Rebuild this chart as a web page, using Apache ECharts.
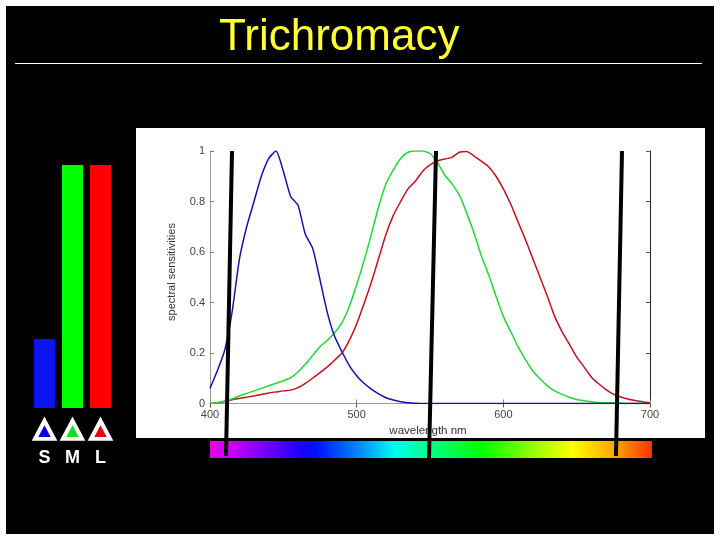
<!DOCTYPE html>
<html>
<head>
<meta charset="utf-8">
<style>
html, body { margin: 0; padding: 0; background: #fff; }
#chart { width: 720px; height: 540px; }
</style>
<script src="https://cdn.jsdelivr.net/npm/echarts@6/dist/echarts.min.js"></script>
</head>
<body>
<div id="chart"></div>
<script>
// sampled every 5 nm, 400 to 700
const wavelengths = [];
for (let w = 400; w <= 700; w += 5) wavelengths.push(w);

const sCone = [0.06, 0.13, 0.21, 0.36, 0.57, 0.70, 0.80, 0.90, 0.97, 1.0, 0.92, 0.82, 0.785, 0.67, 0.615, 0.49, 0.36, 0.265, 0.205, 0.15, 0.11, 0.08, 0.057, 0.038, 0.023, 0.014, 0.007, 0.003, 0.001, 0, 0, 0, 0, 0, 0, 0, 0, 0, 0, 0, 0, 0, 0, 0, 0, 0, 0, 0, 0, 0, 0, 0, 0, 0, 0, 0, 0, 0, 0, 0, 0];
const mCone = [0, 0.003, 0.01, 0.018, 0.03, 0.04, 0.05, 0.06, 0.07, 0.08, 0.09, 0.102, 0.125, 0.155, 0.19, 0.225, 0.25, 0.28, 0.32, 0.385, 0.47, 0.565, 0.67, 0.78, 0.87, 0.925, 0.97, 0.995, 1.0, 1.0, 0.99, 0.955, 0.905, 0.87, 0.825, 0.755, 0.675, 0.585, 0.51, 0.425, 0.345, 0.285, 0.225, 0.175, 0.13, 0.098, 0.07, 0.05, 0.036, 0.025, 0.016, 0.011, 0.007, 0.004, 0.003, 0.002, 0.001, 0, 0, 0, 0];
const lCone = [0, 0.003, 0.008, 0.015, 0.02, 0.025, 0.03, 0.036, 0.042, 0.046, 0.05, 0.053, 0.063, 0.08, 0.1, 0.122, 0.145, 0.172, 0.2, 0.25, 0.315, 0.395, 0.48, 0.575, 0.67, 0.745, 0.80, 0.85, 0.88, 0.92, 0.945, 0.96, 0.968, 0.975, 0.995, 0.998, 0.98, 0.96, 0.938, 0.9, 0.85, 0.79, 0.72, 0.65, 0.575, 0.5, 0.425, 0.345, 0.285, 0.235, 0.185, 0.145, 0.105, 0.078, 0.055, 0.037, 0.026, 0.018, 0.012, 0.007, 0.003];

// cone response bars on the left
const coneNames = ["S", "M", "L"];
const coneResponse = [0.284, 1, 1];
const coneColors = ["#0a14f0", "#00ff00", "#ff0000"];
const triangleColors = ["#0000e0", "#10e020", "#e80010"];

// the three slanted marker lines: [wavelength, sensitivity] top and bottom
const marker1 = [[415, 1], [410.9, -0.208]];
const marker2 = [[554.1, 1], [549.3, -0.216]];
const marker3 = [[680.9, 1], [676.8, -0.208]];

const spectrumRange = [400, 701.5];
const spectrumStops = [
  [0, "#e800e8"], [0.05, "#c800ff"], [0.2, "#2000ff"], [0.24, "#0010ff"], [0.33, "#0080ff"],
  [0.42, "#00ffee"], [0.5, "#00ff80"], [0.615, "#00ff00"], [0.74, "#a0ff00"], [0.82, "#ffff00"],
  [0.92, "#ffa000"], [1, "#ff3000"],
];

const zip = (ys) => wavelengths.map((w, i) => [w, ys[i]]);
const curve = (name, ys, color) => ({
  name, type: "line", data: zip(ys), showSymbol: false, smooth: 0.2, xAxisIndex: 0, yAxisIndex: 0,
  lineStyle: { color, width: 1.5 }, z: 4,
});
const marker = (data) => ({
  type: "line", data, showSymbol: false, clip: false, xAxisIndex: 0, yAxisIndex: 0,
  lineStyle: { color: "#000", width: 4 }, z: 6,
});

const font = "Liberation Sans";
const axisText = { fontFamily: font, fontSize: 11, color: "#444" };

const myChart = echarts.init(document.getElementById("chart"));
const option = {
  backgroundColor: "#fff",
  animation: false,
  title: {
    text: "Trichromacy", left: 214, top: 11,
    textStyle: { color: "#ffff33", fontFamily: font, fontWeight: "normal", fontSize: 44 },
  },
  graphic: [
    { type: "rect", z: -10, shape: { x: 6, y: 6, width: 708, height: 528 }, style: { fill: "#000" } },
    { type: "rect", z: -9, shape: { x: 136, y: 128, width: 569, height: 310 }, style: { fill: "#fff" } },
    { type: "rect", z: -9, shape: { x: 15, y: 63, width: 687, height: 1 }, style: { fill: "#fff" } },
    { type: "text", z: 1, x: 428, y: 431, style: { text: "wavelength nm", fill: "#333", font: "11.5px " + font, textAlign: "center", textVerticalAlign: "middle" } },
    { type: "text", z: 1, x: 172, y: 272, rotation: Math.PI / 2, style: { text: "spectral sensitivities", fill: "#333", font: "11px " + font, textAlign: "center", textVerticalAlign: "middle" } },
  ],
  grid: [
    { left: 210, top: 151, width: 440, height: 252.5 },
    { left: 30.5, top: 165, width: 84, height: 243 },
    { left: 210, top: 441, width: 442, height: 17 },
  ],
  xAxis: [
    {
      type: "value", gridIndex: 0, min: 400, max: 700, interval: 100,
      splitLine: { show: false },
      axisLine: { lineStyle: { color: "#ccc" }, onZero: false },
      axisTick: { inside: true, length: 4, lineStyle: { color: "#888" } },
      axisLabel: { ...axisText, margin: 6, showMinLabel: true, showMaxLabel: true },
    },
    {
      type: "value", gridIndex: 0, position: "top", min: 400, max: 700, interval: 100,
      splitLine: { show: false },
      axisLine: { lineStyle: { color: "#999" } },
      axisTick: { inside: true, length: 4, lineStyle: { color: "#555" } },
      axisLabel: { show: false },
    },
    {
      type: "category", gridIndex: 1, data: coneNames,
      axisLine: { show: false }, axisTick: { show: false },
      axisLabel: { color: "#fff", fontFamily: font, fontWeight: "bold", fontSize: 18, margin: 41 },
    },
    {
      type: "value", gridIndex: 2, min: spectrumRange[0], max: spectrumRange[1], show: false,
      splitLine: { show: false },
    },
  ],
  yAxis: [
    {
      type: "value", gridIndex: 0, min: 0, max: 1, interval: 0.2,
      splitLine: { show: false },
      axisLine: { show: true, lineStyle: { color: "#999" } },
      axisTick: { inside: true, length: 4, lineStyle: { color: "#777" } },
      axisLabel: { ...axisText, margin: 5 },
    },
    {
      type: "value", gridIndex: 0, position: "right", min: 0, max: 1, interval: 0.2,
      splitLine: { show: false },
      axisLine: { show: true, lineStyle: { color: "#222" } },
      axisTick: { inside: true, length: 4, lineStyle: { color: "#555" } },
      axisLabel: { show: false },
    },
    {
      type: "value", gridIndex: 1, min: 0, max: 1, show: false, splitLine: { show: false },
    },
    {
      type: "category", gridIndex: 2, data: ["spectrum"], show: false,
    },
  ],
  series: [
    curve("L", lCone, "#c41020"),
    curve("M", mCone, "#22d838"),
    curve("S", sCone, "#1414a8"),
    marker(marker1),
    marker(marker2),
    marker(marker3),
    {
      type: "bar", xAxisIndex: 2, yAxisIndex: 2, barWidth: 21,
      data: coneResponse.map((v, i) => ({ value: v, itemStyle: { color: coneColors[i] } })),
    },
    {
      // triangles sit below the bars, outside the grid
      type: "scatter", xAxisIndex: 2, yAxisIndex: 2, clip: false, symbol: "triangle", symbolSize: [19, 18],
      data: triangleColors.map((c, i) => ({
        value: [coneNames[i], -0.09],
        itemStyle: { color: c, opacity: 1, borderColor: "#fff", borderWidth: 4 },
      })),
    },
    {
      type: "bar", xAxisIndex: 3, yAxisIndex: 3, barWidth: "100%",
      data: [spectrumRange[1]],
      itemStyle: {
        color: new echarts.graphic.LinearGradient(0, 0, 1, 0, spectrumStops.map((s) => ({ offset: s[0], color: s[1] }))),
      },
    },
  ],
};
myChart.setOption(option);
</script>
</body>
</html>
